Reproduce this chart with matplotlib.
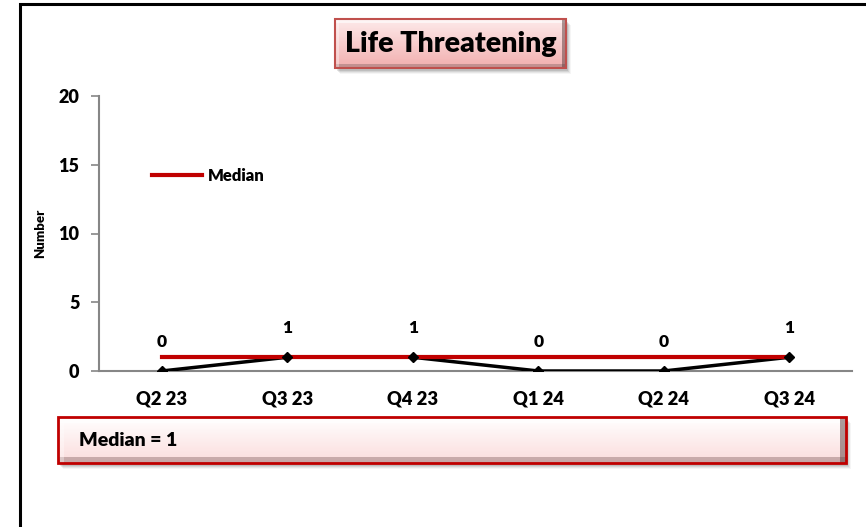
import numpy as np
import matplotlib
matplotlib.use("Agg")
import matplotlib.pyplot as plt
from matplotlib.patches import Rectangle
from matplotlib.lines import Line2D

plt.rcParams['font.family'] = ['Lato', 'DejaVu Sans']
BW = "heavy"

# ---- data ----
categories = ["Q2 23", "Q3 23", "Q4 23", "Q1 24", "Q2 24", "Q3 24"]
values = [0, 1, 1, 0, 0, 1]
median_value = 1
title_text = "Life Threatening"
y_ticks = [0, 5, 10, 15, 20]

W, H = 866, 527
fig = plt.figure(figsize=(W / 100, H / 100), dpi=100)
fig.patch.set_facecolor("white")

# ---- main axes ----
ax = fig.add_axes([99 / W, 1 - 371 / H, (852 - 99) / W, (371 - 96) / H])
x = np.arange(len(categories))
ax.plot(x, values, color="black", lw=2.5, zorder=3)
ax.plot(x, [median_value] * len(x), color="#C00000", lw=3, zorder=4)
ax.plot(x, values, ls="none", marker="D", ms=5, color="black", zorder=5)
for xi, v in zip(x, values):
    ax.annotate(str(v), (xi, v), xytext=(0, 21), textcoords="offset points",
                ha="center", va="center", fontsize=12.5, fontweight=BW)

ax.set_xlim(-0.5, len(categories) - 0.5)
ax.set_ylim(0, 20)
ax.set_yticks(y_ticks)
ax.set_xticks(x)
ax.set_xticklabels(categories, fontsize=13.2, fontweight=BW)
ax.set_yticklabels([str(t) for t in y_ticks], fontsize=13, fontweight=BW)
ax.tick_params(axis="x", length=0, pad=14)
ax.tick_params(axis="y", length=6, width=1.2, color="#868686", pad=8)
for s in ["top", "right"]:
    ax.spines[s].set_visible(False)
for s in ["left", "bottom"]:
    ax.spines[s].set_color("#868686")
    ax.spines[s].set_linewidth(1.5)
ax.set_ylabel("Number", fontsize=9.5, fontweight=BW)
ax.yaxis.set_label_coords(-0.07, 0.5)
ax.set_facecolor("none")

leg = ax.legend([Line2D([0], [0], color="#C00000", lw=3)], ["Median"],
                loc="center left", bbox_to_anchor=(0.071, 0.71), frameon=False,
                prop={"weight": BW, "size": 12}, handlelength=3.0, handletextpad=0.35,
                borderaxespad=0, borderpad=0)

# ---- overlay for decorations (pixel coordinates) ----
ov = fig.add_axes([0, 0, 1, 1], zorder=-1)
ov.set_xlim(0, W)
ov.set_ylim(H, 0)
ov.axis("off")

# frame border
ov.plot([20, 20, W + 5], [H + 5, 4, 4], color="black", lw=2.2, solid_joinstyle="miter")

ov2 = fig.add_axes([0, 0, 1, 1], zorder=10)
ov2.set_xlim(0, W)
ov2.set_ylim(H, 0)
ov2.axis("off")
ov2.patch.set_alpha(0)


def grad_box(a, x0, y0, x1, y1, top, bottom, edge, lw=1.5, shadow=True, bevel=0):
    if shadow:
        for i, al in enumerate([0.10, 0.08, 0.06, 0.04]):
            a.add_patch(Rectangle((x0 + 2 + i, y0 + 3 + i), x1 - x0, y1 - y0,
                                  facecolor="black", alpha=al, lw=0, zorder=1))
    n = 64
    c0 = np.array(matplotlib.colors.to_rgb(top))
    c1 = np.array(matplotlib.colors.to_rgb(bottom))
    t = np.linspace(0, 1, n)[:, None]
    img = (c0 * (1 - t) + c1 * t)[:, None, :]
    a.imshow(img, extent=(x0, x1, y1, y0), aspect="auto", zorder=2, interpolation="bilinear")
    if bevel:
        a.add_patch(Rectangle((x0, y0), x1 - x0, bevel, facecolor="white", alpha=0.6, lw=0, zorder=3))
        a.add_patch(Rectangle((x0, y1 - bevel), x1 - x0, bevel, facecolor="#8a6a6a", alpha=0.45, lw=0, zorder=3))
        a.add_patch(Rectangle((x1 - bevel, y0), bevel, y1 - y0, facecolor="#5a3a3a", alpha=0.5, lw=0, zorder=3))
        a.add_patch(Rectangle((x0, y0), bevel, y1 - y0, facecolor="white", alpha=0.35, lw=0, zorder=3))
    a.add_patch(Rectangle((x0, y0), x1 - x0, y1 - y0, facecolor="none", edgecolor=edge, lw=lw, zorder=4))


# title box
grad_box(ov2, 335, 19, 566, 68, "#FDEAEA", "#F2AFAF", "#C0504D", lw=1.5, bevel=4)
ov2.text(451, 44, title_text, ha="center", va="center", fontsize=20.5,
         fontweight=BW, zorder=5)

# median box
grad_box(ov2, 58, 417, 846, 463, "#FFFFFF", "#FBDCDC", "#C00000", lw=2, bevel=6)
ov2.text(79, 440, f"Median = {median_value}", ha="left", va="center", fontsize=14,
         fontweight=BW, zorder=5)

fig.savefig("out.png", dpi=100)
